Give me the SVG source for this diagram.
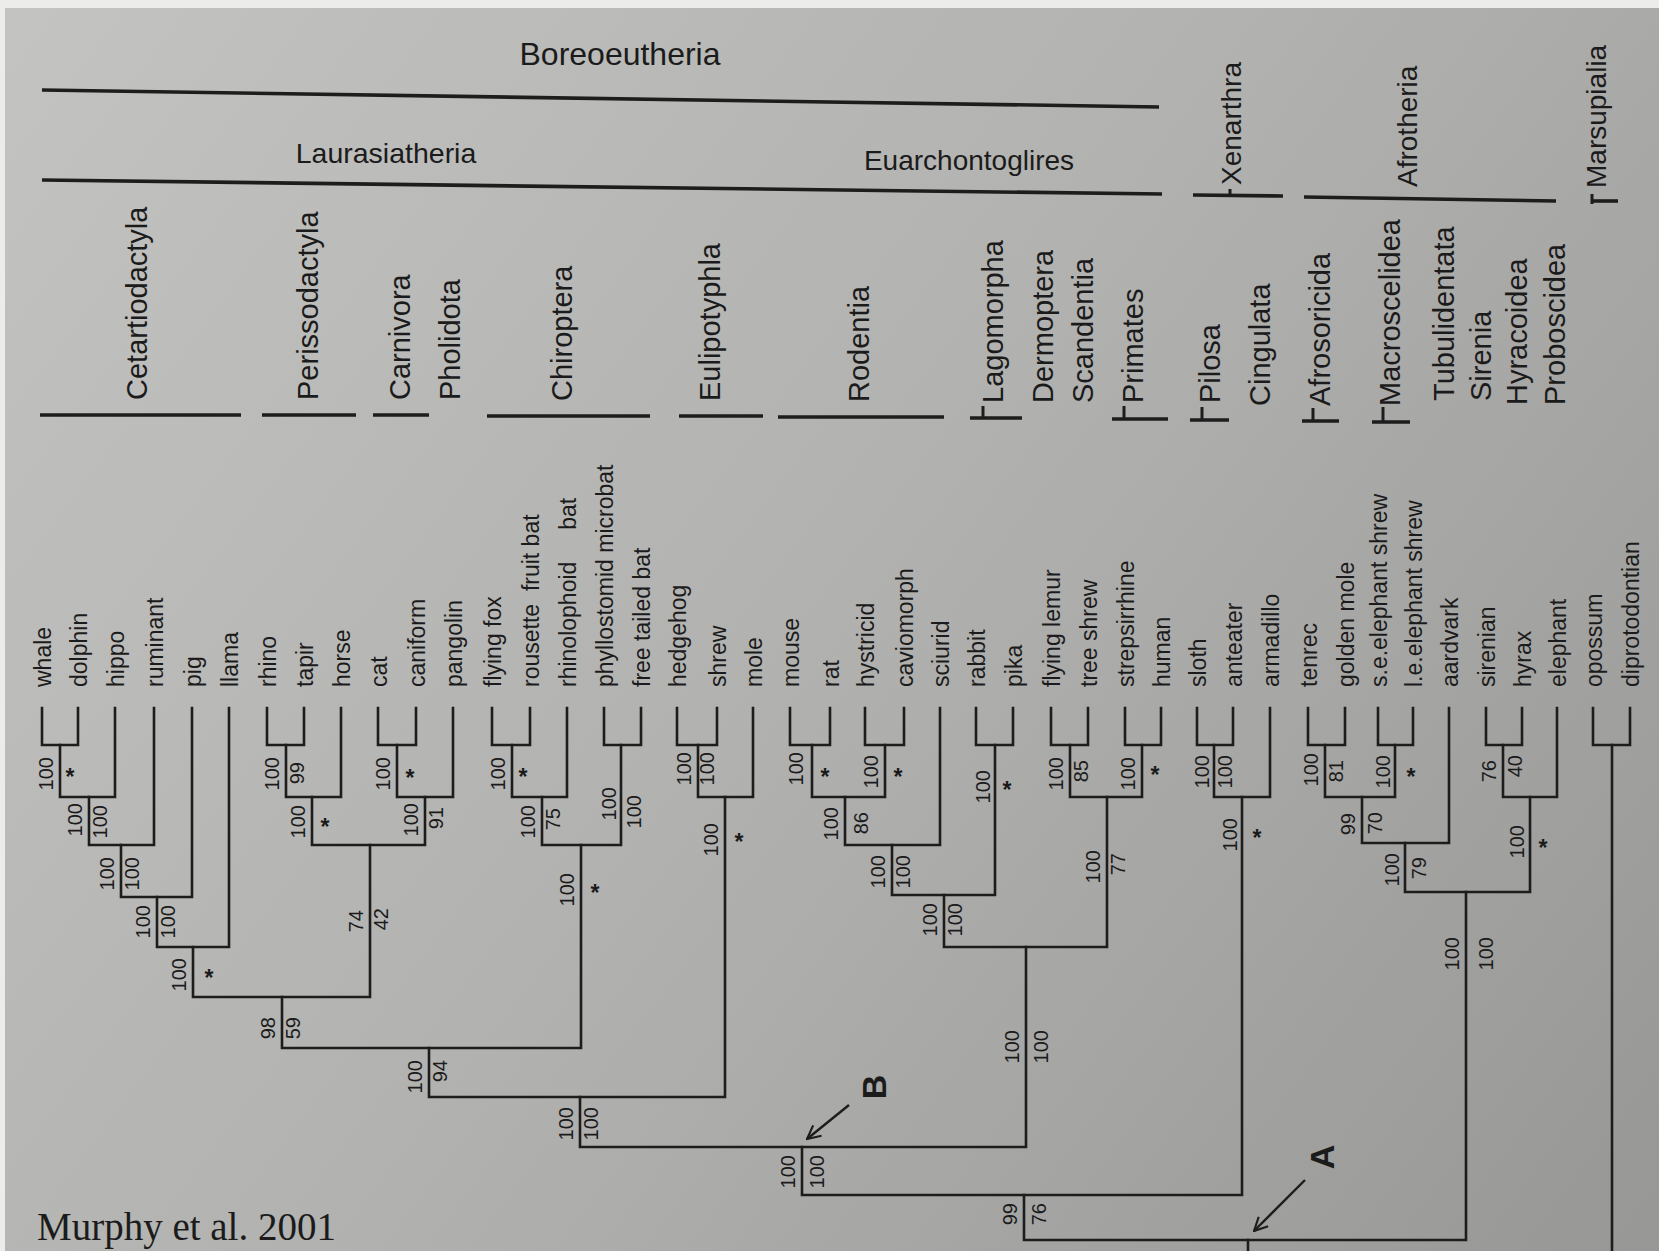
<svg xmlns="http://www.w3.org/2000/svg" width="1659" height="1251" viewBox="0 0 1659 1251">
<defs>
<linearGradient id="paper" x1="0" y1="0" x2="1659" y2="1251" gradientUnits="userSpaceOnUse">
<stop offset="0" stop-color="#c3c3c1"/>
<stop offset="0.5" stop-color="#b1b1af"/>
<stop offset="1" stop-color="#979795"/>
</linearGradient>
<marker id="vhead" viewBox="0 0 12 12" refX="11" refY="6" markerWidth="16" markerHeight="16" markerUnits="userSpaceOnUse" orient="auto">
<path d="M1,1 L11,6 L1,11" fill="none" stroke="#1d1d1d" stroke-width="1.6"/>
</marker>
<style>
.t{font-family:"Liberation Sans",Arial,Helvetica,sans-serif;fill:#1b1b1b}
.lf{font-size:23px}
.bs{font-size:20px}
.st{font-size:23px;font-weight:bold}
.or{font-size:29px}
.cl{font-size:28px}
.ar{font-size:34px;font-weight:bold}
.tree{fill:none;stroke:#1d1d1d;stroke-width:2.6;stroke-linecap:square}
.hl{fill:none;stroke:#1d1d1d;stroke-width:3.6}
.tk{fill:none;stroke:#1d1d1d;stroke-width:3}
.arw{fill:none;stroke:#1d1d1d;stroke-width:2.4;marker-end:url(#vhead)}
</style>
</defs>
<rect x="0" y="0" width="1659" height="1251" fill="url(#paper)"/>
<rect x="0" y="0" width="1659" height="8" fill="#ececea"/>
<rect x="0" y="0" width="5" height="1251" fill="#ececea"/>

<g id="clade-headers">
<g id="boreoeutheria">
<text class="t" font-size="32" x="620" y="65" text-anchor="middle">Boreoeutheria</text>
<path class="hl" d="M42,90 L1159,107"/>
</g>
<g id="laurasiatheria">
<text class="t" font-size="28.5" x="386" y="163" text-anchor="middle">Laurasiatheria</text>
</g>
<g id="euarchontoglires">
<text class="t" font-size="28" x="969" y="170" text-anchor="middle">Euarchontoglires</text>
</g>
<path class="hl" d="M42,180 L1162,194"/>
<g id="xenarthra">
<text class="t cl" transform="translate(1241,185) rotate(-90)">Xenarthra</text>
<path class="hl" d="M1193,195 L1283,196"/>
<path class="tk" d="M1230,189 V196"/>
</g>
<g id="afrotheria">
<text class="t cl" transform="translate(1417,187) rotate(-90)">Afrotheria</text>
<path class="hl" d="M1304,197 L1556,201"/>
</g>
<g id="marsupialia">
<text class="t cl" transform="translate(1606,188) rotate(-90)">Marsupialia</text>
<path class="hl" d="M1592,201 L1618,201"/>
<path class="tk" d="M1592,194 V204"/>
</g>
</g>

<g id="orders">
<text class="t or" transform="translate(147,400) rotate(-90)">Cetartiodactyla</text>
<path class="hl" d="M40,415 H241"/>
<text class="t or" transform="translate(318,400) rotate(-90)">Perissodactyla</text>
<path class="hl" d="M262,415 H356"/>
<text class="t or" transform="translate(410,400) rotate(-90)">Carnivora</text>
<text class="t or" transform="translate(460,400) rotate(-90)">Pholidota</text>
<path class="hl" d="M373,415 H429"/>
<text class="t or" transform="translate(572,401) rotate(-90)">Chiroptera</text>
<path class="hl" d="M487,416 H650"/>
<text class="t or" transform="translate(720,401) rotate(-90)">Eulipotyphla</text>
<path class="hl" d="M679,416 H763"/>
<text class="t or" transform="translate(869,402) rotate(-90)">Rodentia</text>
<path class="hl" d="M778,417 H944"/>
<text class="t or" transform="translate(1003,403) rotate(-90)">Lagomorpha</text>
<path class="hl" d="M970,418 H1022"/>
<path class="tk" d="M983,406 V418"/>
<text class="t or" transform="translate(1053,403) rotate(-90)">Dermoptera</text>
<text class="t or" transform="translate(1093,403) rotate(-90)">Scandentia</text>
<text class="t or" transform="translate(1143,403) rotate(-90)">Primates</text>
<path class="hl" d="M1112,419 H1168"/>
<path class="tk" d="M1124,406 V419"/>
<text class="t or" transform="translate(1220,403) rotate(-90)">Pilosa</text>
<path class="hl" d="M1190,420 H1229"/>
<path class="tk" d="M1202,407 V420"/>
<text class="t or" transform="translate(1270,406) rotate(-90)">Cingulata</text>
<text class="t or" transform="translate(1330,406) rotate(-90)">Afrosoricida</text>
<path class="hl" d="M1302,421 H1339"/>
<path class="tk" d="M1313,408 V421"/>
<text class="t or" transform="translate(1400,406) rotate(-90)">Macroscelidea</text>
<path class="hl" d="M1372,422 H1410"/>
<path class="tk" d="M1383,407 V422"/>
<text class="t or" transform="translate(1454,401) rotate(-90)">Tubulidentata</text>
<text class="t or" transform="translate(1491,401) rotate(-90)">Sirenia</text>
<text class="t or" transform="translate(1527,405) rotate(-90)">Hyracoidea</text>
<text class="t or" transform="translate(1565,405) rotate(-90)">Proboscidea</text>
</g>

<g id="connectors" class="tree">
<path d="M42,708V745H78V708"/>
<path d="M60,745V797H115V708"/>
<path d="M89,797V845H154V708"/>
<path d="M121,845V897H192V708"/>
<path d="M157,897V947H229V708"/>
<path d="M267,708V745H304V708"/>
<path d="M286,745V797H341V708"/>
<path d="M378,708V745H416V708"/>
<path d="M397,745V797H453V708"/>
<path d="M312,797V845H425V797"/>
<path d="M193,947V997H370V845"/>
<path d="M492,708V745H530V708"/>
<path d="M512,745V797H567V708"/>
<path d="M604,708V745H641V708"/>
<path d="M542,797V845H621V745"/>
<path d="M282,997V1048H581V845"/>
<path d="M677,708V745H717V708"/>
<path d="M698,745V797H753V708"/>
<path d="M429,1048V1097H725V797"/>
<path d="M790,708V745H830V708"/>
<path d="M865,708V745H904V708"/>
<path d="M812,745V797H885V745"/>
<path d="M845,797V845H940V708"/>
<path d="M976,708V745H1013V708"/>
<path d="M892,845V895H995V745"/>
<path d="M1051,708V745H1088V708"/>
<path d="M1125,708V745H1161V708"/>
<path d="M1070,745V797H1142V745"/>
<path d="M944,895V947H1107V797"/>
<path d="M580,1097V1147H1026V947"/>
<path d="M1197,708V745H1233V708"/>
<path d="M1214,745V797H1270V708"/>
<path d="M802,1147V1195H1242V797"/>
<path d="M1308,708V745H1345V708"/>
<path d="M1378,708V745H1413V708"/>
<path d="M1325,745V797H1395V745"/>
<path d="M1362,797V843H1449V708"/>
<path d="M1486,708V745H1522V708"/>
<path d="M1503,745V797H1557V708"/>
<path d="M1405,843V892H1530V797"/>
<path d="M1024,1195V1240H1466V892"/>
<path d="M1248,1240V1253"/>
<path d="M1593,708V745H1630V708"/>
<path d="M1612,745V1253"/>
</g>

<g id="leaves" class="t lf">
<g id="leaf-whale"><text transform="translate(51,687) rotate(-90)">whale</text></g>
<g id="leaf-dolphin"><text transform="translate(87,687) rotate(-90)">dolphin</text></g>
<g id="leaf-hippo"><text transform="translate(124,687) rotate(-90)">hippo</text></g>
<g id="leaf-ruminant"><text transform="translate(163,687) rotate(-90)">ruminant</text></g>
<g id="leaf-pig"><text transform="translate(201,687) rotate(-90)">pig</text></g>
<g id="leaf-llama"><text transform="translate(238,687) rotate(-90)">llama</text></g>
<g id="leaf-rhino"><text transform="translate(276,687) rotate(-90)">rhino</text></g>
<g id="leaf-tapir"><text transform="translate(313,687) rotate(-90)">tapir</text></g>
<g id="leaf-horse"><text transform="translate(350,687) rotate(-90)">horse</text></g>
<g id="leaf-cat"><text transform="translate(387,687) rotate(-90)">cat</text></g>
<g id="leaf-caniform"><text transform="translate(425,687) rotate(-90)">caniform</text></g>
<g id="leaf-pangolin"><text transform="translate(462,687) rotate(-90)">pangolin</text></g>
<g id="leaf-flying-fox"><text transform="translate(501,687) rotate(-90)">flying fox</text></g>
<g id="leaf-rousette"><text transform="translate(539,687) rotate(-90)" xml:space="preserve">rousette  fruit bat</text></g>
<g id="leaf-rhinolophoid"><text transform="translate(576,687) rotate(-90)" xml:space="preserve">rhinolophoid     bat</text></g>
<g id="leaf-phyllostomid"><text transform="translate(613,687) rotate(-90)">phyllostomid microbat</text></g>
<g id="leaf-free-tailed"><text transform="translate(650,687) rotate(-90)">free tailed bat</text></g>
<g id="leaf-hedgehog"><text transform="translate(686,687) rotate(-90)">hedgehog</text></g>
<g id="leaf-shrew"><text transform="translate(726,687) rotate(-90)">shrew</text></g>
<g id="leaf-mole"><text transform="translate(762,687) rotate(-90)">mole</text></g>
<g id="leaf-mouse"><text transform="translate(799,687) rotate(-90)">mouse</text></g>
<g id="leaf-rat"><text transform="translate(839,687) rotate(-90)">rat</text></g>
<g id="leaf-hystricid"><text transform="translate(874,687) rotate(-90)">hystricid</text></g>
<g id="leaf-caviomorph"><text transform="translate(913,687) rotate(-90)">caviomorph</text></g>
<g id="leaf-sciurid"><text transform="translate(949,687) rotate(-90)">sciurid</text></g>
<g id="leaf-rabbit"><text transform="translate(985,687) rotate(-90)">rabbit</text></g>
<g id="leaf-pika"><text transform="translate(1022,687) rotate(-90)">pika</text></g>
<g id="leaf-flying-lemur"><text transform="translate(1060,687) rotate(-90)">flying lemur</text></g>
<g id="leaf-tree-shrew"><text transform="translate(1097,687) rotate(-90)">tree shrew</text></g>
<g id="leaf-strepsirrhine"><text transform="translate(1134,687) rotate(-90)">strepsirrhine</text></g>
<g id="leaf-human"><text transform="translate(1170,687) rotate(-90)">human</text></g>
<g id="leaf-sloth"><text transform="translate(1206,687) rotate(-90)">sloth</text></g>
<g id="leaf-anteater"><text transform="translate(1242,687) rotate(-90)">anteater</text></g>
<g id="leaf-armadillo"><text transform="translate(1279,687) rotate(-90)">armadillo</text></g>
<g id="leaf-tenrec"><text transform="translate(1317,687) rotate(-90)">tenrec</text></g>
<g id="leaf-golden-mole"><text transform="translate(1354,687) rotate(-90)">golden mole</text></g>
<g id="leaf-se-elephant-shrew"><text transform="translate(1387,687) rotate(-90)">s.e.elephant shrew</text></g>
<g id="leaf-le-elephant-shrew"><text transform="translate(1422,687) rotate(-90)">l.e.elephant shrew</text></g>
<g id="leaf-aardvark"><text transform="translate(1458,687) rotate(-90)">aardvark</text></g>
<g id="leaf-sirenian"><text transform="translate(1495,687) rotate(-90)">sirenian</text></g>
<g id="leaf-hyrax"><text transform="translate(1531,687) rotate(-90)">hyrax</text></g>
<g id="leaf-elephant"><text transform="translate(1566,687) rotate(-90)">elephant</text></g>
<g id="leaf-opossum"><text transform="translate(1602,687) rotate(-90)">opossum</text></g>
<g id="leaf-diprotodontian"><text transform="translate(1639,687) rotate(-90)">diprotodontian</text></g>
</g>

<g id="support" class="t bs" text-anchor="end">
<g id="n-whale-dolphin"><text transform="translate(53,757) rotate(-90)">100</text><text class="st" x="70" y="785" text-anchor="middle">*</text></g>
<g id="n-whale-hippo"><text transform="translate(82,803) rotate(-90)">100</text><text transform="translate(107,805) rotate(-90)">100</text></g>
<g id="n-whale-ruminant"><text transform="translate(114,857) rotate(-90)">100</text><text transform="translate(139,857) rotate(-90)">100</text></g>
<g id="n-whale-pig"><text transform="translate(150,905) rotate(-90)">100</text><text transform="translate(175,905) rotate(-90)">100</text></g>
<g id="n-cetartiodactyla"><text transform="translate(186,958) rotate(-90)">100</text><text class="st" x="209" y="986" text-anchor="middle">*</text></g>
<g id="n-rhino-tapir"><text transform="translate(279,757) rotate(-90)">100</text><text transform="translate(304,762) rotate(-90)">99</text></g>
<g id="n-perissodactyla"><text transform="translate(305,805) rotate(-90)">100</text><text class="st" x="325" y="835" text-anchor="middle">*</text></g>
<g id="n-cat-caniform"><text transform="translate(390,757) rotate(-90)">100</text><text class="st" x="410" y="786" text-anchor="middle">*</text></g>
<g id="n-carnivora-pholidota"><text transform="translate(418,803) rotate(-90)">100</text><text transform="translate(443,807) rotate(-90)">91</text></g>
<g id="n-perisso-carn"><text transform="translate(363,910) rotate(-90)">74</text><text transform="translate(388,908) rotate(-90)">42</text></g>
<g id="n-fereuungulata"><text transform="translate(275,1017) rotate(-90)">98</text><text transform="translate(300,1017) rotate(-90)">59</text></g>
<g id="n-flyingfox-rousette"><text transform="translate(505,757) rotate(-90)">100</text><text class="st" x="523" y="785" text-anchor="middle">*</text></g>
<g id="n-megabat-rhinolophoid"><text transform="translate(535,805) rotate(-90)">100</text><text transform="translate(560,808) rotate(-90)">75</text></g>
<g id="n-phyllostomid-freetailed"><text transform="translate(616,787) rotate(-90)">100</text><text transform="translate(641,795) rotate(-90)">100</text></g>
<g id="n-chiroptera"><text transform="translate(574,873) rotate(-90)">100</text><text class="st" x="595" y="901" text-anchor="middle">*</text></g>
<g id="n-scrotifera"><text transform="translate(422,1060) rotate(-90)">100</text><text transform="translate(447,1060) rotate(-90)">94</text></g>
<g id="n-hedgehog-shrew"><text transform="translate(691,752) rotate(-90)">100</text><text transform="translate(714,752) rotate(-90)">100</text></g>
<g id="n-eulipotyphla"><text transform="translate(718,823) rotate(-90)">100</text><text class="st" x="739" y="850" text-anchor="middle">*</text></g>
<g id="n-laurasiatheria"><text transform="translate(573,1107) rotate(-90)">100</text><text transform="translate(598,1107) rotate(-90)">100</text></g>
<g id="n-mouse-rat"><text transform="translate(803,752) rotate(-90)">100</text><text class="st" x="825" y="785" text-anchor="middle">*</text></g>
<g id="n-hystricid-caviomorph"><text transform="translate(878,755) rotate(-90)">100</text><text class="st" x="898" y="785" text-anchor="middle">*</text></g>
<g id="n-murid-hystricognath"><text transform="translate(838,807) rotate(-90)">100</text><text transform="translate(868,812) rotate(-90)">86</text></g>
<g id="n-rodentia"><text transform="translate(885,855) rotate(-90)">100</text><text transform="translate(910,855) rotate(-90)">100</text></g>
<g id="n-lagomorpha"><text transform="translate(990,770) rotate(-90)">100</text><text class="st" x="1007" y="798" text-anchor="middle">*</text></g>
<g id="n-glires"><text transform="translate(937,903) rotate(-90)">100</text><text transform="translate(962,903) rotate(-90)">100</text></g>
<g id="n-lemur-treeshrew"><text transform="translate(1063,757) rotate(-90)">100</text><text transform="translate(1088,760) rotate(-90)">85</text></g>
<g id="n-primates"><text transform="translate(1135,757) rotate(-90)">100</text><text class="st" x="1155" y="783" text-anchor="middle">*</text></g>
<g id="n-euarchonta"><text transform="translate(1100,850) rotate(-90)">100</text><text transform="translate(1125,853) rotate(-90)">77</text></g>
<g id="n-euarchontoglires"><text transform="translate(1019,1030) rotate(-90)">100</text><text transform="translate(1048,1030) rotate(-90)">100</text></g>
<g id="n-boreoeutheria"><text transform="translate(795,1155) rotate(-90)">100</text><text transform="translate(824,1155) rotate(-90)">100</text></g>
<g id="n-sloth-anteater"><text transform="translate(1209,755) rotate(-90)">100</text><text transform="translate(1232,755) rotate(-90)">100</text></g>
<g id="n-xenarthra"><text transform="translate(1237,818) rotate(-90)">100</text><text class="st" x="1257" y="846" text-anchor="middle">*</text></g>
<g id="n-boreo-xenarthra"><text transform="translate(1017,1203) rotate(-90)">99</text><text transform="translate(1046,1203) rotate(-90)">76</text></g>
<g id="n-tenrec-goldenmole"><text transform="translate(1318,753) rotate(-90)">100</text><text transform="translate(1343,760) rotate(-90)">81</text></g>
<g id="n-elephant-shrews"><text transform="translate(1390,755) rotate(-90)">100</text><text class="st" x="1411" y="785" text-anchor="middle">*</text></g>
<g id="n-afroinsectiphilia"><text transform="translate(1355,813) rotate(-90)">99</text><text transform="translate(1382,812) rotate(-90)">70</text></g>
<g id="n-afroinsectiphillia-aardvark"><text transform="translate(1399,853) rotate(-90)">100</text><text transform="translate(1426,857) rotate(-90)">79</text></g>
<g id="n-sirenian-hyrax"><text transform="translate(1496,760) rotate(-90)">76</text><text transform="translate(1522,755) rotate(-90)">40</text></g>
<g id="n-paenungulata"><text transform="translate(1524,825) rotate(-90)">100</text><text class="st" x="1543" y="856" text-anchor="middle">*</text></g>
<g id="n-afrotheria"><text transform="translate(1459,937) rotate(-90)">100</text><text transform="translate(1493,937) rotate(-90)">100</text></g>
</g>

<g id="markers">
<g id="mark-B">
<path class="arw" d="M849,1105 L807,1139"/>
<text class="t ar" transform="translate(886,1087) rotate(-90)" text-anchor="middle">B</text>
</g>
<g id="mark-A">
<path class="arw" d="M1305,1180 L1254,1231"/>
<text class="t ar" transform="translate(1334,1157) rotate(-90)" text-anchor="middle">A</text>
</g>
</g>

<g id="citation">
<text x="37" y="1240" font-family="'Liberation Serif','Times New Roman',serif" font-size="39" fill="#1b1b1b">Murphy et al. 2001</text>
</g>
</svg>
